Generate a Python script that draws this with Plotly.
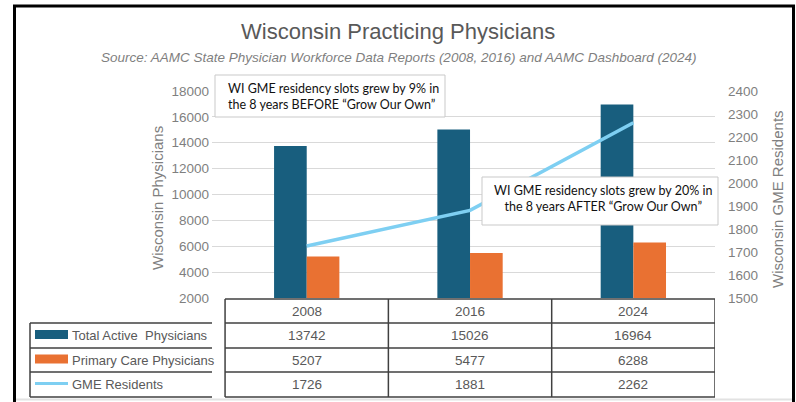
import plotly.graph_objects as go

# ---- data ----
years = ["2008", "2016", "2024"]
total_active = [13742, 15026, 16964]
primary_care = [5207, 5477, 6288]
gme_residents = [1726, 1881, 2262]
series_names = ["Total Active  Physicians", "Primary Care Physicians", "GME Residents"]
left_ticks = [2000, 4000, 6000, 8000, 10000, 12000, 14000, 16000, 18000]
right_ticks = [1500, 1600, 1700, 1800, 1900, 2000, 2100, 2200, 2300, 2400]

C_TEAL = "#185E7E"
C_ORANGE = "#E97132"
C_LINE = "#7ECFF2"
colors = [C_TEAL, C_ORANGE, C_LINE]

W, H = 796, 402
L, R, T, B = 212, 715, 91, 298  # plot area in pixels


def PX(x):
    return (x - L) / (R - L)


def PY(y):
    return (B - y) / (B - T)


fig = go.Figure()
fig.add_trace(go.Bar(x=years, y=total_active, name=series_names[0],
                     marker=dict(color=C_TEAL, line=dict(width=0)), showlegend=False))
fig.add_trace(go.Bar(x=years, y=primary_care, name=series_names[1],
                     marker=dict(color=C_ORANGE, line=dict(width=0)), showlegend=False))
fig.add_trace(go.Scatter(x=years, y=gme_residents, name=series_names[2], yaxis="y2",
                         mode="lines", line=dict(color=C_LINE, width=3.5), showlegend=False))

AX_FONT = dict(family="Liberation Sans, Arial, sans-serif", size=13.5, color="#7f7f7f")

fig.update_layout(
    width=W, height=H,
    margin=dict(l=L, r=W - R, t=T, b=H - B, pad=0),
    paper_bgcolor="white", plot_bgcolor="white",
    barmode="group", bargap=0.6, bargroupgap=0,
    xaxis=dict(type="category", range=[-0.58, 2.5], showticklabels=False,
               showgrid=False, zeroline=False, showline=False, ticks=""),
    yaxis=dict(range=[2000, 18000], tickvals=left_ticks, tickformat="d", showgrid=True,
               gridcolor="#d9d9d9", gridwidth=1, zeroline=False, showline=False,
               ticks="", tickfont=AX_FONT, ticklabelstandoff=2, automargin=False),
    yaxis2=dict(range=[1500, 2400], tickvals=right_ticks, tickformat="d", overlaying="y",
                side="right", showgrid=False, zeroline=False, showline=False, ticks="",
                tickfont=AX_FONT, ticklabelstandoff=12, automargin=False),
)

shapes = []
ann = []

# ---- outer frame ----
shapes.append(dict(type="line", xref="paper", yref="paper", x0=PX(14.5), x1=PX(14.5),
                   y0=PY(5), y1=PY(402), line=dict(color="black", width=3)))
shapes.append(dict(type="line", xref="paper", yref="paper", x0=PX(13), x1=PX(795),
                   y0=PY(6), y1=PY(6), line=dict(color="black", width=3)))
shapes.append(dict(type="line", xref="paper", yref="paper", x0=PX(793.5), x1=PX(793.5),
                   y0=PY(5), y1=PY(402), line=dict(color="black", width=3)))
shapes.append(dict(type="line", xref="paper", yref="paper", x0=PX(16), x1=PX(792),
                   y0=PY(399.5), y1=PY(399.5), line=dict(color="#e2e2e2", width=2)))

# ---- titles ----
ann.append(dict(text="Wisconsin Practicing Physicians", xref="paper", yref="paper",
                x=PX(398), y=PY(31), xanchor="center", yanchor="middle", showarrow=False,
                font=dict(family="Liberation Sans, Arial, sans-serif", size=22, color="#595959")))
ann.append(dict(text="<i>Source: AAMC State Physician Workforce Data Reports (2008, 2016) and AAMC Dashboard (2024)</i>",
                xref="paper", yref="paper", x=PX(398.5), y=PY(58), xanchor="center", yanchor="middle",
                showarrow=False,
                font=dict(family="Liberation Sans, Arial, sans-serif", size=13.5, color="#7f7f7f")))

# ---- axis titles ----
ann.append(dict(text="Wisconsin Physicians", xref="paper", yref="paper", x=PX(157), y=PY(198),
                xanchor="center", yanchor="middle", textangle=-90, showarrow=False,
                font=dict(family="Liberation Sans, Arial, sans-serif", size=15, color="#808080")))
ann.append(dict(text="Wisconsin GME Residents", xref="paper", yref="paper", x=PX(777), y=PY(199),
                xanchor="center", yanchor="middle", textangle=-90, showarrow=False,
                font=dict(family="Liberation Sans, Arial, sans-serif", size=15, color="#808080")))

# ---- callout boxes ----
shapes.append(dict(type="rect", xref="paper", yref="paper", x0=PX(215), x1=PX(445),
                   y0=PY(75), y1=PY(117), fillcolor="white", layer="above",
                   line=dict(color="#c9c9c9", width=1)))
shapes.append(dict(type="rect", xref="paper", yref="paper", x0=PX(482), x1=PX(718),
                   y0=PY(177), y1=PY(225), fillcolor="white", layer="above",
                   line=dict(color="#c9c9c9", width=1)))
CALL_FONT = dict(family="Lato, Open Sans, sans-serif", size=12.5, color="#111111")
ann.append(dict(text="WI GME residency slots grew by 9% in<br>the 8 years BEFORE \u201cGrow Our Own\u201d",
                xref="paper", yref="paper", x=PX(226), y=PY(96), xanchor="left", yanchor="middle",
                align="left", showarrow=False, font=CALL_FONT))
ann.append(dict(text="WI GME residency slots grew by 20% in<br>the 8 years AFTER \u201cGrow Our Own\u201d",
                xref="paper", yref="paper", x=PX(603), y=PY(198), xanchor="center", yanchor="middle",
                align="center", showarrow=False, font=CALL_FONT))

# ---- data table ----
TL = dict(color="#404040", width=1.5)
row_top, header_bot = 299, 323
row_lines = [323, 348, 372, 397]
row_centers = [335.5, 360, 384.5]
n = len(years)
shapes.append(dict(type="line", xref="x", yref="paper", x0=-0.5, x1=n - 0.5,
                   y0=PY(row_top), y1=PY(row_top), line=TL))
for yl in row_lines:
    shapes.append(dict(type="line", xref="paper", yref="paper", x0=PX(30), x1=0,
                       y0=PY(yl), y1=PY(yl), line=TL))
    shapes.append(dict(type="line", xref="x", yref="paper", x0=-0.5, x1=n - 0.5,
                       y0=PY(yl), y1=PY(yl), line=TL))
shapes.append(dict(type="line", xref="paper", yref="paper", x0=PX(30), x1=PX(30),
                   y0=PY(header_bot), y1=PY(397), line=TL))
for k in range(n + 1):
    shapes.append(dict(type="line", xref="x", yref="paper", x0=k - 0.5, x1=k - 0.5,
                       y0=PY(row_top), y1=PY(397), line=TL))

TAB_FONT = dict(family="Liberation Sans, Arial, sans-serif", size=13.5, color="#595959")
LAB_FONT = dict(family="Liberation Sans, Arial, sans-serif", size=13, color="#595959")
for j, yr in enumerate(years):
    ann.append(dict(text=yr, xref="x", yref="paper", x=j, y=PY(311), xanchor="center",
                    yanchor="middle", showarrow=False, font=TAB_FONT))

table_rows = [total_active, primary_care, gme_residents]
for i, vals in enumerate(table_rows):
    yc = row_centers[i]
    for j, v in enumerate(vals):
        ann.append(dict(text=str(v), xref="x", yref="paper", x=j, y=PY(yc), xanchor="center",
                        yanchor="middle", showarrow=False, font=TAB_FONT))
    ann.append(dict(text=series_names[i].replace("  ", "&nbsp; "), xref="paper", yref="paper",
                    x=PX(70), y=PY(yc), xanchor="left", yanchor="middle", showarrow=False,
                    font=LAB_FONT))
    hh = 4.5 if i < 2 else 1.5
    shapes.append(dict(type="rect", xref="paper", yref="paper", x0=PX(35), x1=PX(68),
                       y0=PY(yc - 1 - hh), y1=PY(yc - 1 + hh), fillcolor=colors[i],
                       line=dict(width=0)))

fig.update_layout(shapes=shapes, annotations=ann)
fig.write_html("out.html", config={"displayModeBar": False},
               post_script="document.body.style.margin='0';document.body.style.overflow='hidden';")
